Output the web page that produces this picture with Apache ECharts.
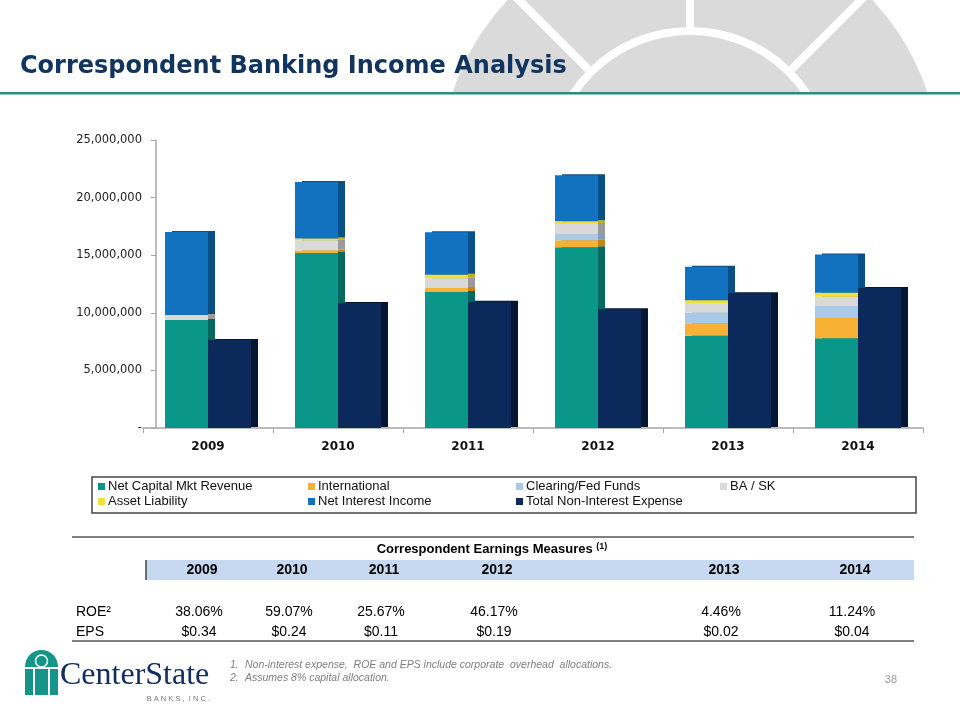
<!DOCTYPE html>
<html>
<head>
<meta charset="utf-8">
<script src="https://cdn.jsdelivr.net/npm/echarts@6/dist/echarts.min.js"></script>
<style>html,body{margin:0;padding:0;background:#fff}#c{width:960px;height:720px}</style>
</head>
<body>
<div id="c"></div>
<script>
// ---- data ----
const years = ['2009', '2010', '2011', '2012', '2013', '2014'];
const netCapitalMkt = [9380000, 15200000, 11800000, 15700000, 8000000, 7800000];
const international = [0, 200000, 350000, 600000, 1100000, 1750000];
const clearingFed = [0, 0, 0, 550000, 900000, 1050000];
const baSk = [430000, 900000, 850000, 850000, 850000, 800000];
const assetLiability = [0, 150000, 300000, 250000, 250000, 350000];
const netInterest = [7200000, 4900000, 3700000, 4000000, 2900000, 3300000];
const nonIntExpense = [7640000, 10850000, 10950000, 10300000, 11700000, 12150000];
const yTicks = [0, 5000000, 10000000, 15000000, 20000000, 25000000];

const tableYears = ['2009', '2010', '2011', '2012', '2013', '2014'];
const roe = ['38.06%', '59.07%', '25.67%', '46.17%', '4.46%', '11.24%'];
const eps = ['$0.34', '$0.24', '$0.11', '$0.19', '$0.02', '$0.04'];

// ---- styling ----
const seriesDefs = [
  { name: 'Net Capital Mkt Revenue', data: netCapitalMkt, color: '#0a978a', side: '#05675e', stack: 'inc' },
  { name: 'International', data: international, color: '#f7b236', side: '#c38518', stack: 'inc' },
  { name: 'Clearing/Fed Funds', data: clearingFed, color: '#a9c9e8', side: '#7f9ebd', stack: 'inc' },
  { name: 'BA / SK', data: baSk, color: '#d9d9d9', side: '#9a9a9a', stack: 'inc' },
  { name: 'Asset Liability', data: assetLiability, color: '#f2df38', side: '#bfae20', stack: 'inc' },
  { name: 'Net Interest Income', data: netInterest, color: '#1272bf', side: '#0a4e86', stack: 'inc' },
  { name: 'Total Non-Interest Expense', data: nonIntExpense, color: '#0b2a5b', side: '#041634', stack: 'exp' }
];

const F = 'Liberation Sans, Arial, sans-serif';
const colX = [202, 292, 384, 497, 724, 855];

const graphic = [];
// decorative rose-window background at top right
graphic.push({ type: 'circle', z: -20, shape: { cx: 690, cy: 171, r: 250 }, style: { fill: '#dadada' } });
[-90, -45, -135].forEach(a => {
  const rad = a * Math.PI / 180;
  graphic.push({ type: 'line', z: -19, shape: { x1: 690 + 144 * Math.cos(rad), y1: 171 + 144 * Math.sin(rad), x2: 690 + 270 * Math.cos(rad), y2: 171 + 270 * Math.sin(rad) }, style: { stroke: '#fff', lineWidth: 8 } });
});
graphic.push({ type: 'circle', z: -18, shape: { cx: 690, cy: 171, r: 140 }, style: { fill: 'none', stroke: '#fff', lineWidth: 8 } });
graphic.push({ type: 'rect', z: -15, shape: { x: 0, y: 93, width: 960, height: 627 }, style: { fill: '#fff' } });
graphic.push({ type: 'rect', z: -14, shape: { x: 0, y: 92, width: 960, height: 2.5 }, style: { fill: '#2a8b80' } });
// title
graphic.push({ type: 'text', left: 20, top: 55, style: { text: 'Correspondent Banking Income Analysis', font: 'bold 24px DejaVu Sans, Verdana, sans-serif', fill: '#12355f' } });

// legend box
graphic.push({ type: 'rect', shape: { x: 92, y: 477, width: 824, height: 36 }, style: { fill: 'none', stroke: '#444', lineWidth: 1.5 } });

// table
graphic.push({ type: 'line', shape: { x1: 72, y1: 537, x2: 914, y2: 537 }, style: { stroke: '#7f7f7f', lineWidth: 2 } });
graphic.push({ type: 'rect', shape: { x: 146, y: 560, width: 768, height: 20 }, style: { fill: '#c6d9f1' } });
graphic.push({ type: 'line', shape: { x1: 146, y1: 560, x2: 146, y2: 580 }, style: { stroke: '#444', lineWidth: 1.5 } });
graphic.push({ type: 'text', x: 492, y: 549, style: { text: '{t|Correspondent Earnings Measures }{s|(1)}', align: 'center', verticalAlign: 'middle', rich: { t: { font: 'bold 13px ' + F, fill: '#000' }, s: { font: 'bold 9px ' + F, fill: '#000', padding: [0, 0, 5, 0] } } } });
tableYears.forEach((y, i) => {
  graphic.push({ type: 'text', x: colX[i], y: 570, style: { text: y, align: 'center', verticalAlign: 'middle', font: 'bold 14px ' + F, fill: '#000' } });
  graphic.push({ type: 'text', x: colX[i] - 3, y: 612, style: { text: roe[i], align: 'center', verticalAlign: 'middle', font: '14px ' + F, fill: '#000' } });
  graphic.push({ type: 'text', x: colX[i] - 3, y: 632, style: { text: eps[i], align: 'center', verticalAlign: 'middle', font: '14px ' + F, fill: '#000' } });
});
graphic.push({ type: 'text', x: 76, y: 612, style: { text: 'ROE²', verticalAlign: 'middle', font: '14px ' + F, fill: '#000' } });
graphic.push({ type: 'text', x: 76, y: 632, style: { text: 'EPS', verticalAlign: 'middle', font: '14px ' + F, fill: '#000' } });
graphic.push({ type: 'line', shape: { x1: 72, y1: 641, x2: 914, y2: 641 }, style: { stroke: '#7f7f7f', lineWidth: 2 } });

// logo
graphic.push({ type: 'rect', shape: { x: 25, y: 650, width: 33, height: 45, r: [16.5, 16.5, 0, 0] }, style: { fill: '#15958a' } });
graphic.push({ type: 'rect', shape: { x: 33, y: 668, width: 2, height: 27 }, style: { fill: '#fff' } });
graphic.push({ type: 'rect', shape: { x: 48, y: 668, width: 2, height: 27 }, style: { fill: '#fff' } });
graphic.push({ type: 'rect', shape: { x: 25, y: 667, width: 33, height: 2 }, style: { fill: '#fff' } });
graphic.push({ type: 'circle', shape: { cx: 41.5, cy: 661, r: 6 }, style: { fill: 'none', stroke: '#fff', lineWidth: 1.5 } });
graphic.push({ type: 'text', x: 60, y: 676, style: { text: 'CenterState', verticalAlign: 'middle', font: '32px Liberation Serif, Times New Roman, serif', fill: '#102e61' } });
graphic.push({ type: 'text', x: 210, y: 699, style: { text: 'B A N K S ,  I N C .', align: 'right', verticalAlign: 'middle', font: '7.5px ' + F, fill: '#777' } });

// footnotes & page number
const fnFont = 'italic 10.5px ' + F;
graphic.push({ type: 'text', x: 230, y: 665, style: { text: '1.', verticalAlign: 'middle', font: fnFont, fill: '#7f7f7f' } });
graphic.push({ type: 'text', x: 245, y: 665, style: { text: 'Non-interest expense,  ROE and EPS include corporate  overhead  allocations.', verticalAlign: 'middle', font: fnFont, fill: '#7f7f7f' } });
graphic.push({ type: 'text', x: 230, y: 678, style: { text: '2.', verticalAlign: 'middle', font: fnFont, fill: '#7f7f7f' } });
graphic.push({ type: 'text', x: 245, y: 678, style: { text: 'Assumes 8% capital allocation.', verticalAlign: 'middle', font: fnFont, fill: '#7f7f7f' } });
graphic.push({ type: 'text', x: 897, y: 680, style: { text: '38', align: 'right', verticalAlign: 'middle', font: '11px ' + F, fill: '#999' } });

const legendBase = {
  orient: 'vertical', itemWidth: 7, itemHeight: 7, itemGap: 2, padding: 0, icon: 'rect',
  textStyle: { fontFamily: F, fontSize: 13, color: '#111', padding: [0, 0, 0, -2] },
  itemStyle: { shadowColor: 'transparent', shadowOffsetX: 0, shadowBlur: 0 }
};

const option = {
  backgroundColor: '#fff',
  animation: false,
  graphic: graphic,
  legend: [
    Object.assign({}, legendBase, { left: 98, top: 480, data: ['Net Capital Mkt Revenue', 'Asset Liability'] }),
    Object.assign({}, legendBase, { left: 308, top: 480, data: ['International', 'Net Interest Income'] }),
    Object.assign({}, legendBase, { left: 516, top: 480, data: ['Clearing/Fed Funds', 'Total Non-Interest Expense'] }),
    Object.assign({}, legendBase, { left: 720, top: 480, data: ['BA / SK'] })
  ],
  grid: { left: 143, width: 780, top: 140, bottom: 292, containLabel: false },
  xAxis: {
    type: 'category', data: years,
    axisLine: { lineStyle: { color: '#a6a6a6', width: 1.5 } },
    axisTick: { show: true, length: 5, lineStyle: { color: '#a6a6a6' } },
    axisLabel: { margin: 13, fontFamily: 'DejaVu Sans, Verdana, sans-serif', fontWeight: 'bold', fontSize: 12, color: '#111' }
  },
  yAxis: {
    type: 'value', min: 0, max: 25000000, interval: 5000000, offset: -13,
    axisLine: { show: true, lineStyle: { color: '#a6a6a6', width: 1.5 } },
    axisTick: { show: true, length: 5, lineStyle: { color: '#a6a6a6' } },
    splitLine: { show: false },
    axisLabel: {
      margin: 14, fontFamily: 'DejaVu Sans, Verdana, sans-serif', fontSize: 11.5, color: '#222',
      formatter: v => (yTicks.indexOf(v) === 0 ? '-' : v.toLocaleString('en-US'))
    }
  },
  series: seriesDefs.map(s => ({
    name: s.name, type: 'bar', stack: s.stack, data: s.data,
    barWidth: 43, barGap: '0%',
    itemStyle: { color: s.color, shadowColor: s.side, shadowBlur: 0, shadowOffsetX: 7, shadowOffsetY: -1 },
    emphasis: { disabled: true }
  }))
};

const chart = echarts.init(document.getElementById('c'), null, { renderer: 'canvas' });
chart.setOption(option);
</script>
</body>
</html>
